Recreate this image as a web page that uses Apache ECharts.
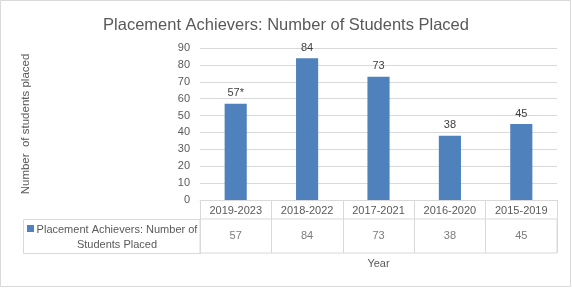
<!DOCTYPE html>
<html>
<head>
<meta charset="utf-8">
<style>
  html, body { margin: 0; padding: 0; background: #fff; }
  #chart { width: 572px; height: 288px; }
</style>
<script src="https://cdn.jsdelivr.net/npm/echarts@6/dist/echarts.min.js"></script>
</head>
<body>
<div id="chart"></div>
<script>
// chart data
var years = ['2019-2023', '2018-2022', '2017-2021', '2016-2020', '2015-2019']
var placed = [57, 84, 73, 38, 45]
var notes = ['*', '', '', '', ''] // footnote marks on bar labels
var seriesName = 'Placement Achievers: Number of Students Placed'

var gray = '#595959'
var lineGray = '#d9d9d9'
var font = 'Liberation Sans'

var chart = echarts.init(document.getElementById('chart'))

chart.setOption({
  textStyle: { fontFamily: font },
  animation: false,
  title: {
    text: 'Placement Achievers: Number of Students Placed',
    left: 'center',
    top: 12,
    textStyle: { fontSize: 16.5, fontWeight: 'normal', color: gray, fontFamily: font }
  },
  grid: [
    { left: 200, right: 15, top: 48, height: 152 },
    // data table value row
    { left: 200, right: 15, top: 219, height: 34, show: true, borderColor: lineGray, borderWidth: 1 }
  ],
  xAxis: [{
    type: 'category',
    gridIndex: 0,
    data: years,
    axisLine: { lineStyle: { color: lineGray } },
    axisTick: { show: true, length: 53, lineStyle: { color: lineGray } },
    axisLabel: { color: gray, fontSize: 11, margin: 5, interval: 0 }
  }, {
    type: 'category',
    gridIndex: 1,
    data: years,
    axisLine: { show: false },
    axisTick: { show: false },
    axisLabel: { show: false },
    name: 'Year',
    nameLocation: 'middle',
    nameGap: 5,
    nameTextStyle: { color: gray, fontSize: 11 }
  }],
  yAxis: [{
    type: 'value',
    gridIndex: 0,
    min: 0,
    max: 90,
    interval: 10,
    axisLine: { show: false },
    axisTick: { show: false },
    axisLabel: { color: gray, fontSize: 11, margin: 10 },
    splitLine: { lineStyle: { color: lineGray } },
    name: 'Number  of students placed',
    nameLocation: 'middle',
    nameGap: 168,
    nameTextStyle: { color: gray, fontSize: 11.5 }
  }, {
    type: 'value',
    gridIndex: 1,
    min: 0,
    max: 1,
    show: false
  }],
  series: [{
    name: seriesName,
    type: 'bar',
    xAxisIndex: 0,
    yAxisIndex: 0,
    data: placed,
    barWidth: '31%',
    itemStyle: { color: '#4f81bd' },
    label: {
      show: true,
      position: 'top',
      distance: 5,
      color: '#404040',
      fontSize: 11,
      formatter: function(p) { return p.value + notes[p.dataIndex] }
    }
  }, {
    // values in the data table row
    type: 'scatter',
    xAxisIndex: 1,
    yAxisIndex: 1,
    symbolSize: 0,
    data: placed.map(function(v, i) { return [i, 0.5] }),
    label: {
      show: true,
      position: 'inside',
      color: gray,
      fontSize: 11,
      formatter: function(p) { return String(placed[p.dataIndex]) }
    },
    silent: true
  }],
  graphic: [{
    type: 'rect',
    shape: { x: 0.5, y: 0.5, width: 570, height: 286 },
    style: { fill: 'none', stroke: lineGray, lineWidth: 1 },
    silent: true
  }, {
    // legend cell of the data table
    type: 'rect',
    shape: { x: 23.5, y: 219.5, width: 177, height: 34 },
    style: { fill: 'none', stroke: lineGray, lineWidth: 1 },
    silent: true
  }, {
    type: 'rect',
    shape: { x: 27, y: 225, width: 7, height: 7 },
    style: { fill: '#4f81bd' },
    silent: true
  }, {
    type: 'text',
    x: 117,
    y: 222,
    style: {
      text: 'Placement Achievers: Number of\nStudents Placed',
      fill: gray,
      fontSize: 11,
      fontFamily: font,
      align: 'center',
      lineHeight: 15
    },
    silent: true
  }]
})
</script>
</body>
</html>
